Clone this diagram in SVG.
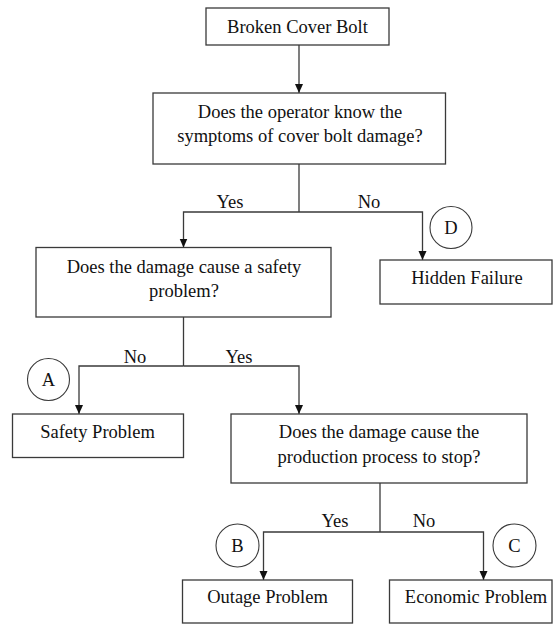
<svg xmlns="http://www.w3.org/2000/svg" width="553" height="625" viewBox="0 0 553 625">
  <style>
    .box { fill: #ffffff; stroke: #3a3a3a; stroke-width: 1.3; }
    .t { font-family: "Liberation Serif", "Times New Roman", serif; font-size: 18.5px; fill: #111111; text-anchor: middle; }
    .lbl { font-family: "Liberation Serif", "Times New Roman", serif; font-size: 18.5px; fill: #111111; text-anchor: middle; }
    .conn { fill: none; stroke: #3a3a3a; stroke-width: 1.3; }
    .circ { fill: #ffffff; stroke: #3a3a3a; stroke-width: 1.1; }
  </style>
  <defs>
    <marker id="arrow" markerUnits="userSpaceOnUse" markerWidth="10" markerHeight="10" viewBox="0 0 10 10" refX="9" refY="5" orient="auto">
      <path d="M0,1 L9,5 L0,9 Z" fill="#111111"/>
    </marker>
  </defs>
  <rect width="553" height="625" fill="#ffffff"/>

  <g id="connectors">
    <path class="conn" d="M299,45 L299,93" marker-end="url(#arrow)"/>
    <path class="conn" d="M299,164 L299,212"/>
    <path class="conn" d="M299,212 L183.5,212 L183.5,247.5" marker-end="url(#arrow)"/>
    <path class="conn" d="M299,212 L422.5,212 L422.5,260" marker-end="url(#arrow)"/>
    <path class="conn" d="M183.5,317 L183.5,366"/>
    <path class="conn" d="M183.5,366 L79,366 L79,414" marker-end="url(#arrow)"/>
    <path class="conn" d="M183.5,366 L299,366 L299,414" marker-end="url(#arrow)"/>
    <path class="conn" d="M380,483 L380,532"/>
    <path class="conn" d="M380,532 L263.5,532 L263.5,580" marker-end="url(#arrow)"/>
    <path class="conn" d="M380,532 L483.5,532 L483.5,580" marker-end="url(#arrow)"/>
    <text class="lbl" x="230" y="208">Yes</text>
    <text class="lbl" x="369" y="208">No</text>
    <text class="lbl" x="135" y="363">No</text>
    <text class="lbl" x="239" y="363">Yes</text>
    <text class="lbl" x="335" y="527">Yes</text>
    <text class="lbl" x="424" y="527">No</text>
  </g>

  <g id="node-broken-cover-bolt">
    <rect class="box" x="206" y="8" width="183" height="37"/>
    <text class="t" x="297.5" y="33">Broken Cover Bolt</text>
  </g>

  <g id="node-operator-know">
    <rect class="box" x="153" y="93" width="292.5" height="71"/>
    <text class="t" x="300" y="117.5">Does the operator know the</text>
    <text class="t" x="300" y="142">symptoms of cover bolt damage?</text>
  </g>

  <g id="node-safety-question">
    <rect class="box" x="36" y="247.5" width="295" height="69.5"/>
    <text class="t" x="184" y="272.5">Does the damage cause a safety</text>
    <text class="t" x="184" y="297">problem?</text>
  </g>

  <g id="node-hidden-failure">
    <rect class="box" x="380" y="260" width="172" height="44"/>
    <text class="t" x="467" y="283.5">Hidden Failure</text>
  </g>

  <g id="node-safety-problem">
    <rect class="box" x="12.5" y="414" width="171" height="43.5"/>
    <text class="t" x="97.5" y="438">Safety Problem</text>
  </g>

  <g id="node-production-question">
    <rect class="box" x="231" y="414" width="296" height="69"/>
    <text class="t" x="379" y="437.5">Does the damage cause the</text>
    <text class="t" x="379" y="463">production process to stop?</text>
  </g>

  <g id="node-outage-problem">
    <rect class="box" x="182.5" y="580" width="170" height="43"/>
    <text class="t" x="267.5" y="603">Outage Problem</text>
  </g>

  <g id="node-economic-problem">
    <rect class="box" x="389.5" y="580" width="162.5" height="43"/>
    <text class="t" x="476" y="603">Economic Problem</text>
  </g>

  <g id="marker-d">
    <circle class="circ" cx="451" cy="227.5" r="21"/>
    <text class="t" x="451" y="234">D</text>
  </g>
  <g id="marker-a">
    <circle class="circ" cx="48.5" cy="379.5" r="21"/>
    <text class="t" x="48.5" y="386">A</text>
  </g>
  <g id="marker-b">
    <circle class="circ" cx="237.5" cy="545.5" r="21.5"/>
    <text class="t" x="237.5" y="552">B</text>
  </g>
  <g id="marker-c">
    <circle class="circ" cx="514.5" cy="545.5" r="21.5"/>
    <text class="t" x="514.5" y="552">C</text>
  </g>
</svg>
